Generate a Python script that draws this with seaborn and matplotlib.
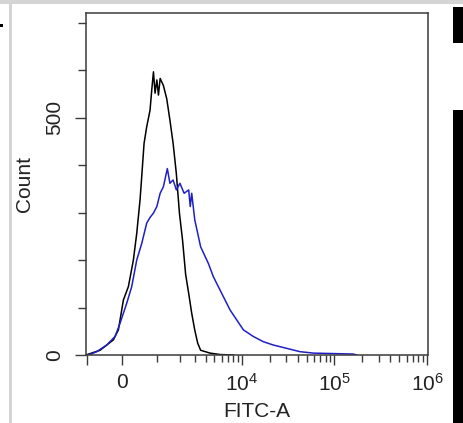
import numpy as np
import pandas as pd
import matplotlib
matplotlib.use("Agg")
import matplotlib.pyplot as plt
import seaborn as sns
from matplotlib.patches import Rectangle


# -----------------------------
# DATA
# -----------------------------
BLACK_FITC = [-1035, -582, -220, -92, 34, 160, 289, 378, 469, 516, 583, 661,
              764, 819, 875, 929, 991, 1048, 1111, 1237, 1374, 1513, 1663,
              1823, 1991, 2170, 2360, 2562, 2777, 3006, 3249, 3508, 4465,
              5755, 8047]
BLACK_COUNT = [0, 10, 32, 53, 116, 144, 200, 256, 327, 376, 446, 481,
               516, 559, 597, 552, 580, 548, 583, 568, 540, 495, 446,
               383, 299, 242, 170, 130, 88, 53, 25, 10, 4,
               1, 0]

BLUE_FITC = [-949, -682, -396, -177, -50, 34, 118, 246, 378, 516, 661, 764,
             873, 991, 1111, 1237, 1399, 1513, 1661, 1825, 2017, 2265, 2563,
             2671, 2776, 3009, 3508, 4279, 4860, 5517, 6259, 7402, 8748,
             10340, 13267, 17030, 21850, 30440, 42420, 59110, 97200, 159900,
             173700]
BLUE_COUNT = [0, 7, 21, 39, 67, 88, 109, 144, 200, 235, 278, 290,
              299, 313, 341, 355, 393, 362, 369, 348, 362, 341, 348,
              313, 341, 285, 228, 193, 165, 144, 123, 95, 74,
              53, 39, 28, 21, 14, 7, 4, 3, 2,
              0]

X_MAJOR = [-1000, 0, 1e4, 1e5, 1e6]
X_MAJOR_LABELS = ["", "0", r"$10^4$", r"$10^5$", r"$10^6$"]
X_MINOR = [m * 10 ** e for e in (3, 4, 5) for m in range(2 if e > 3 else 1, 10)]
Y_MAJOR = [0, 500]
Y_MINOR = [100, 200, 300, 400, 600, 700]


# -----------------------------
# CONFIG
# -----------------------------
W, H = 464, 423
sns.set_style("ticks")
plt.rcParams["font.family"] = ["Liberation Sans", "DejaVu Sans"]
plt.rcParams["mathtext.fontset"] = "custom"
plt.rcParams["mathtext.rm"] = "Liberation Sans"
plt.rcParams["mathtext.default"] = "rm"

C = 1013.0
AXIS_GREY = "#3a3a3a"


def fwd(x):
    return np.arcsinh(np.asarray(x, dtype=float) / C)


def inv(y):
    return C * np.sinh(np.asarray(y, dtype=float))


def px_rect(fig, x0, y0, x1, y1, color):
    fig.add_artist(Rectangle((x0 / W, 1 - y1 / H), (x1 - x0) / W, (y1 - y0) / H,
                             transform=fig.transFigure, color=color, lw=0))


# -----------------------------
# PLOT
# -----------------------------
def main() -> None:
    black = pd.DataFrame({"FITC-A": BLACK_FITC, "Count": BLACK_COUNT})
    blue = pd.DataFrame({"FITC-A": BLUE_FITC, "Count": BLUE_COUNT})

    fig = plt.figure(figsize=(W / 100, H / 100), dpi=100)
    ax = fig.add_axes([86 / W, 1 - 355 / H, (428 - 86) / W, (355 - 13) / H])

    sns.lineplot(data=black, x="FITC-A", y="Count", color="black",
                 lw=1.1, sort=False, estimator=None, ax=ax)
    sns.lineplot(data=blue, x="FITC-A", y="Count", color="#1f1fc8",
                 lw=1.1, sort=False, estimator=None, ax=ax)

    ax.set_xscale("function", functions=(fwd, inv))
    ax.set_xlim(-1035, 1.024e6)
    ax.set_ylim(0, 721)

    ax.set_xticks(X_MAJOR)
    ax.set_xticklabels(X_MAJOR_LABELS)
    ax.set_xticks(X_MINOR, minor=True)
    ax.set_yticks(Y_MAJOR)
    ax.set_yticklabels([str(v) for v in Y_MAJOR], rotation=90, va="center")
    ax.set_yticks(Y_MINOR, minor=True)

    for s in ax.spines.values():
        s.set_visible(True)
        s.set_color(AXIS_GREY)
        s.set_linewidth(1.1)

    ax.tick_params(axis="both", which="both", bottom=True, left=True,
                   top=False, right=False, direction="out", width=1.0,
                   color=AXIS_GREY)
    ax.tick_params(axis="x", which="major", length=7.2, labelsize=15, pad=6,
                   labelcolor="#222222")
    ax.tick_params(axis="x", which="minor", length=5)
    ax.tick_params(axis="y", which="major", length=8, labelsize=15, pad=8,
                   labelcolor="#222222")
    ax.tick_params(axis="y", which="minor", length=5.8)

    ax.set_xlabel("FITC-A", fontsize=15, color="#222222")
    ax.set_ylabel("Count", fontsize=15, color="#222222")
    ax.xaxis.set_label_coords(0.5, (355 - 402) / 342)
    ax.xaxis.label.set_va("top")
    ax.yaxis.set_label_coords((34 - 86) / 342, 0.5)

    # cropped screenshot remnants around the panel
    px_rect(fig, 0, 0, W, 4, "#d4d4d4")
    px_rect(fig, 9.5, 0, 12.5, H, "#d4d4d4")
    px_rect(fig, 0, 24, 3, 27, "black")
    px_rect(fig, 453, 7, W, 43, "black")
    px_rect(fig, 453, 110, W, H, "black")

    fig.savefig("out.png", dpi=100)
    plt.close(fig)


if __name__ == "__main__":
    main()
